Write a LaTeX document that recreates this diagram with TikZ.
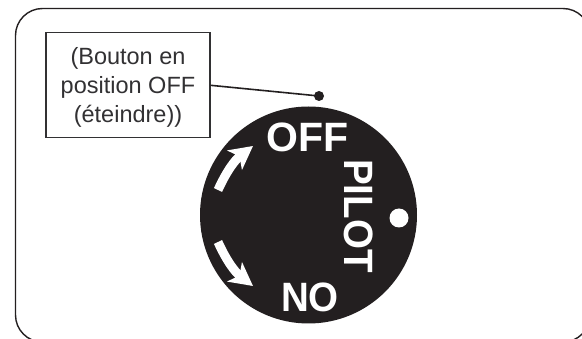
\documentclass[tikz,border=0pt]{standalone}
\usepackage{fontspec}
\setmainfont{Liberation Sans}
\usetikzlibrary{arrows.meta,positioning,calc}
\definecolor{dialblack}{RGB}{35,31,32}
\definecolor{labelgray}{RGB}{50,49,51}
\begin{document}
\begin{tikzpicture}[x=1pt,y=-1pt,
    lblbox/.style={
        draw=labelgray, fill=white, line width=1.1pt,
        minimum width=164pt, minimum height=105pt,
        align=center, inner sep=0pt, text=labelgray, font=\fontsize{23.5}{29}\selectfont
    },
  dial/.style={fill=dialblack, draw=none},
  dialtxt/.style={text=white, font=\bfseries\fontsize{41}{41}\selectfont, inner sep=0pt},
  swing/.style={draw=white, line width=9pt, -{Stealth[length=23pt,width=24pt,inset=6pt]}}
]
\useasboundingbox (0,0) rectangle (582,339);

% outer frame
\path[clip] (0,0) rectangle (582,339);
\draw[dialblack, line width=1.4pt, rounded corners=27pt] (15.5,8.5) rectangle (590,342);

% dial
\fill[dial] (308.5,215) circle (108.5);
\node[dialtxt] (off) at (307.5,137) {OFF};
\node[dialtxt, xscale=.94] (no) at (310,297.5) {NO};
\node[dialtxt, rotate=-90, xscale=.94] (pilot) at (359,216) {PILOT};
\fill[white] (399,218) circle (9.5);

% arrows
\coordinate (upS) at (218,190);
\coordinate (upE) at (253,146);
\coordinate (dnS) at (218,242);
\coordinate (dnE) at (253,286);
\draw[swing] (upS) to[bend left=14] (upE);
\draw[swing] (dnS) to[bend right=14] (dnE);

% callout
\node[lblbox] (lbl) at (128,85) {\rule{0pt}{22pt}(Bouton en\\position OFF\\(éteindre))};
\coordinate (tip) at (319,96);
\draw[dialblack, line width=1.6pt] (lbl.east|-0,85.3) -- (tip);
\fill[dialblack] (tip) circle (5);
\end{tikzpicture}
\end{document}
